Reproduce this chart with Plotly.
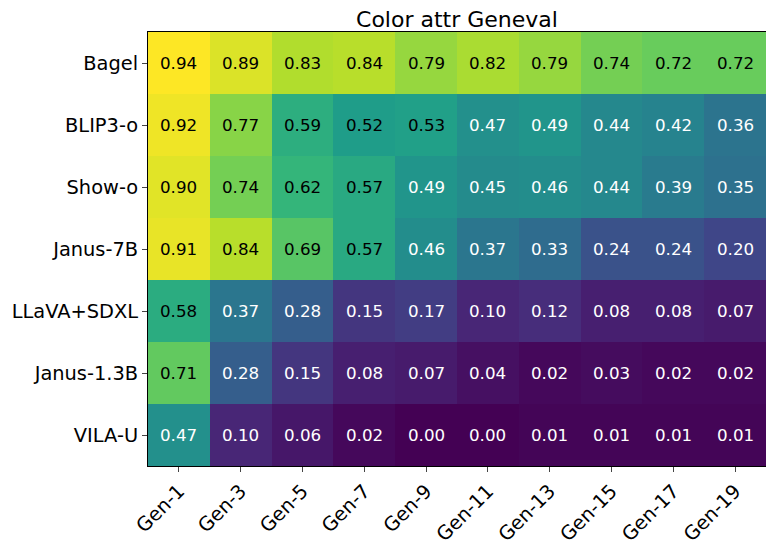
import plotly.graph_objects as go

models = ["Bagel", "BLIP3-o", "Show-o", "Janus-7B", "LLaVA+SDXL", "Janus-1.3B", "VILA-U"]
gens = ["Gen-1", "Gen-3", "Gen-5", "Gen-7", "Gen-9", "Gen-11", "Gen-13", "Gen-15", "Gen-17", "Gen-19"]

bagel = [0.94, 0.89, 0.83, 0.84, 0.79, 0.82, 0.79, 0.74, 0.72, 0.72]
blip3o = [0.92, 0.77, 0.59, 0.52, 0.53, 0.47, 0.49, 0.44, 0.42, 0.36]
showo = [0.90, 0.74, 0.62, 0.57, 0.49, 0.45, 0.46, 0.44, 0.39, 0.35]
janus7b = [0.91, 0.84, 0.69, 0.57, 0.46, 0.37, 0.33, 0.24, 0.24, 0.20]
llava_sdxl = [0.58, 0.37, 0.28, 0.15, 0.17, 0.10, 0.12, 0.08, 0.08, 0.07]
janus13b = [0.71, 0.28, 0.15, 0.08, 0.07, 0.04, 0.02, 0.03, 0.02, 0.02]
vilau = [0.47, 0.10, 0.06, 0.02, 0.00, 0.00, 0.01, 0.01, 0.01, 0.01]

z = [bagel, blip3o, showo, janus7b, llava_sdxl, janus13b, vilau]

fig = go.Figure(go.Heatmap(
    z=z, x=gens, y=models, colorscale="Viridis",
    zmin=min(min(r) for r in z), zmax=max(max(r) for r in z),
    showscale=False, xgap=0, ygap=0,
))

for i, m in enumerate(models):
    for j, g in enumerate(gens):
        v = z[i][j]
        fig.add_annotation(x=g, y=m, text=f"{v:.2f}", showarrow=False,
                           font=dict(size=16.7, color="black" if v > 0.5 else "white",
                                     family="DejaVu Sans"))

# page body has an 8px margin, so the figure is offset by 8px; compensate
W, H = 766, 541
fig.update_layout(
    width=W, height=H,
    margin=dict(l=140, r=8, t=24, b=83),
    paper_bgcolor="white", plot_bgcolor="white",
    font=dict(family="DejaVu Sans", color="black"),
    title=dict(text="Color attr Geneval", x=(140 + 758) / 2 / W, xanchor="center",
               y=1 - 11 / H, yanchor="middle", font=dict(size=22)),
)
fig.update_xaxes(tickangle=-45, tickfont=dict(size=19.4), ticks="outside", ticklen=5,
                 automargin=False,
                 showline=True, linecolor="black", linewidth=1, mirror=True)
fig.update_yaxes(autorange="reversed", tickfont=dict(size=19.4), ticks="outside", ticklen=5,
                 automargin=False,
                 showline=True, linecolor="black", linewidth=1, mirror=True)

fig.write_html("out.html")
